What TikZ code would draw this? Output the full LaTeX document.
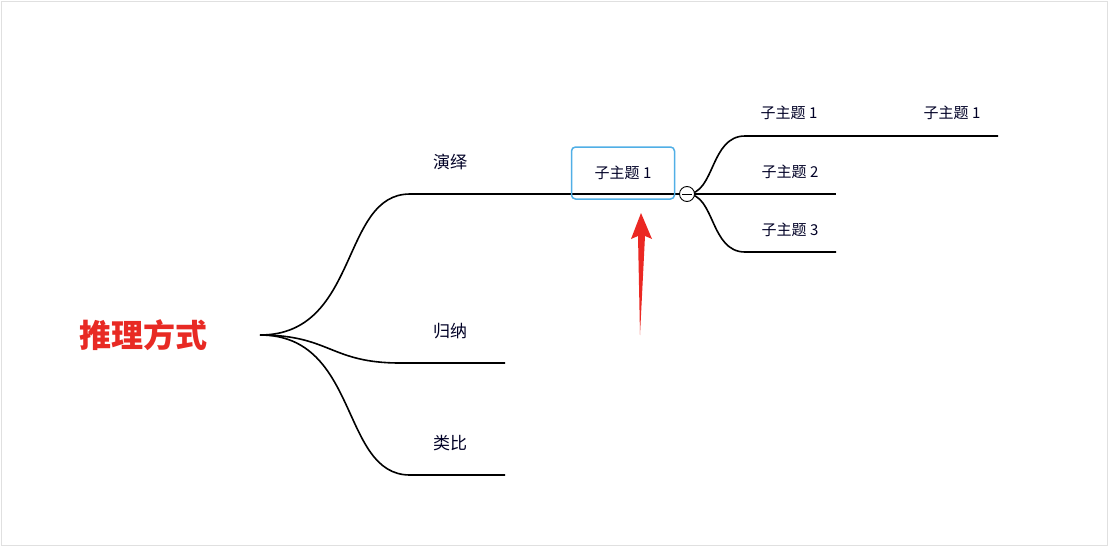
\documentclass[tikz,border=0pt]{standalone}
\usepackage{fontspec}
\usetikzlibrary{calc}
\setmainfont{Noto Sans CJK SC}
\definecolor{rootred}{RGB}{232,42,36}
\definecolor{arrred}{RGB}{235,40,35}
\definecolor{boxblue}{RGB}{80,175,230}
\begin{document}
\begin{tikzpicture}[x=1pt,y=-1pt,
  br/.style={line width=1.6pt,black},
  lbl/.style={font=\fontsize{17}{17}\selectfont,text=black!85!blue},
  sub/.style={font=\fontsize{15}{15}\selectfont,text=black!85!blue}]
\fill[white] (0,0) rectangle (1108,546);
\draw[black!12] (1,1) rectangle (1107,545);
\useasboundingbox (0,0) rectangle (1108,546);
\node[font=\fontsize{32}{32}\selectfont\bfseries,text=rootred] (root) at (143,335) {推理方式};
\coordinate (r) at (260,335);
\coordinate (c) at (687,194);
\draw[br] (r) .. controls (360,335) and (340,194) .. (410,194) -- (c);
\draw[br] (r) .. controls (330,335) and (330,363) .. (400,363) -- (505,363);
\draw[br] (r) .. controls (360,335) and (340,475) .. (410,475) -- (505,475);
\node[lbl] (a) at (450,162) {演绎};
\node[lbl] (b) at (450,331) {归纳};
\node[lbl] (d) at (450,443) {类比};
\node[draw=boxblue,line width=1.5pt,rounded corners=4pt,minimum width=103pt,minimum height=52pt,sub] (box) at (623,173) {子主题 1};
\draw[br] (c) .. controls (715,194) and (710,136) .. (745,136) -- (998,136);
\draw[br] (c) -- (836,194);
\draw[br] (c) .. controls (715,194) and (710,252) .. (745,252) -- (836,252);
\node[draw,fill=white,circle,minimum size=15pt,inner sep=0pt,line width=0.9pt] (k) at (c) {};
\draw[line width=0.8pt] ($(k.west)+(3,0)$) -- ($(k.east)-(3,0)$);
\node[sub] (s1) at (789,113) {子主题 1};
\node[sub] (s2) at (790,172) {子主题 2};
\node[sub] (s3) at (790,230) {子主题 3};
\node[sub] (s4) at (952,113) {子主题 1};
\fill[arrred] (640,335) -- (638,236) -- (631,239) -- (641,213) -- (652,239) -- (645,236) -- cycle;
\end{tikzpicture}
\end{document}
